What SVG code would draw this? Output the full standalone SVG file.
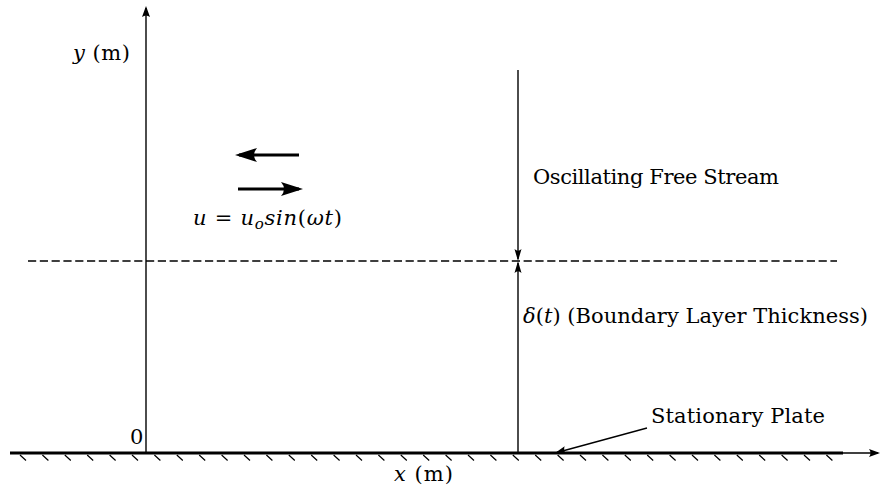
<svg xmlns="http://www.w3.org/2000/svg" width="881" height="491" viewBox="0 0 881 491">
<style>
.it{font-style:italic}
.ln{stroke:#000;fill:none}
</style>
<defs>
<marker id="ax" markerUnits="userSpaceOnUse" markerWidth="14" markerHeight="10" refX="9" refY="5" orient="auto" overflow="visible">
<path d="M11,5 L0,1 Q3,5 0,9 Z" fill="#000"/>
</marker>
<marker id="dim" markerUnits="userSpaceOnUse" markerWidth="14" markerHeight="8" refX="10" refY="4" orient="auto" overflow="visible">
<path d="M12,4 L0,0.5 Q3.5,4 0,7.5 Z" fill="#000"/>
</marker>
<marker id="big" markerUnits="userSpaceOnUse" markerWidth="24" markerHeight="14" refX="18" refY="7" orient="auto" overflow="visible">
<path d="M22,7 L0,0 Q6,7 0,14 Z" fill="#000"/>
</marker>
</defs>

<g id="ground">
<line class="ln" x1="10" y1="453" x2="843" y2="453" stroke-width="3.2"/>
<path class="ln" stroke-width="1.2" d="M20,455 l6,5.5 M42.4,455 l6,5.5 M64.8,455 l6,5.5 M87.2,455 l6,5.5 M109.6,455 l6,5.5 M132,455 l6,5.5 M154.4,455 l6,5.5 M176.8,455 l6,5.5 M199.2,455 l6,5.5 M221.6,455 l6,5.5 M244,455 l6,5.5 M266.4,455 l6,5.5 M288.8,455 l6,5.5 M311.2,455 l6,5.5 M333.6,455 l6,5.5 M356,455 l6,5.5 M378.4,455 l6,5.5 M400.8,455 l6,5.5 M423.2,455 l6,5.5 M445.6,455 l6,5.5 M468,455 l6,5.5 M490.4,455 l6,5.5 M512.8,455 l6,5.5 M535.2,455 l6,5.5 M557.6,455 l6,5.5 M580,455 l6,5.5 M602.4,455 l6,5.5 M624.8,455 l6,5.5 M647.2,455 l6,5.5 M669.6,455 l6,5.5 M692,455 l6,5.5 M714.4,455 l6,5.5 M736.8,455 l6,5.5 M759.2,455 l6,5.5 M781.6,455 l6,5.5 M804,455 l6,5.5 M826.4,455 l6,5.5"/>
</g>

<g id="connectors">
<line class="ln" x1="840" y1="453" x2="878" y2="453" stroke-width="1.3" marker-end="url(#ax)"/>
<line class="ln" x1="146" y1="454" x2="146" y2="8" stroke-width="1.4" marker-end="url(#ax)"/>
<line class="ln" x1="28" y1="261" x2="837" y2="261" stroke-width="1.4" stroke-dasharray="8.2 3.6"/>
<line class="ln" x1="518" y1="70" x2="518" y2="259" stroke-width="1.4" marker-end="url(#dim)"/>
<line class="ln" x1="518" y1="452" x2="518" y2="263" stroke-width="1.4" marker-end="url(#dim)"/>
<line class="ln" x1="299" y1="155" x2="239" y2="155" stroke-width="3" marker-end="url(#big)"/>
<line class="ln" x1="238" y1="189" x2="299" y2="189" stroke-width="3" marker-end="url(#big)"/>
<line class="ln" x1="647" y1="428" x2="557" y2="452.5" stroke-width="1.3" marker-end="url(#ax)"/>
</g>

<g id="labels" font-family="DejaVu Serif, Liberation Serif, serif" font-size="21" fill="#000">
<text x="73" y="60" textLength="57" lengthAdjust="spacing"><tspan class="it">y</tspan> (m)</text>
<text x="130" y="444">0</text>
<text x="394" y="481" textLength="59" lengthAdjust="spacing"><tspan class="it">x</tspan> (m)</text>
<text x="193" y="225" textLength="149" lengthAdjust="spacing"><tspan class="it">u</tspan> = <tspan class="it">u</tspan><tspan class="it" font-size="15" dy="4">o</tspan><tspan class="it" dy="-4">sin</tspan>(<tspan class="it">ωt</tspan>)</text>
<text x="533" y="184" textLength="246" lengthAdjust="spacing">Oscillating Free Stream</text>
<text x="523" y="323" textLength="345" lengthAdjust="spacing"><tspan class="it">δ</tspan>(<tspan class="it">t</tspan>) (Boundary Layer Thickness)</text>
<text x="651" y="423" textLength="174" lengthAdjust="spacing">Stationary Plate</text>
</g>
</svg>
